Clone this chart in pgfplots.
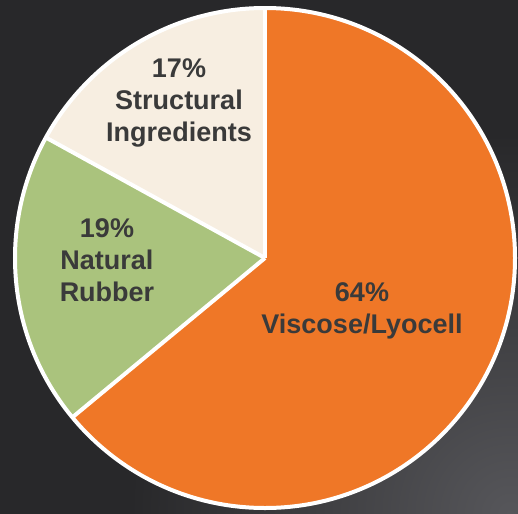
\documentclass[border=0pt]{standalone}
\usepackage{pgfplots}
\pgfplotsset{compat=1.18}
\usepackage{fontspec}
\setmainfont{Liberation Sans}
\definecolor{bgdark}{HTML}{28282A}
\definecolor{bglight}{HTML}{56565A}
\definecolor{cOrange}{HTML}{EF7727}
\definecolor{cGreen}{HTML}{AAC37D}
\definecolor{cBeige}{HTML}{F7EEE1}
\definecolor{txt}{HTML}{3A3A3A}
% shares (percent)
\def\vA{64}% Viscose/Lyocell
\def\vB{19}% Natural Rubber
\def\vC{17}% Structural Ingredients
\begin{document}
\begin{tikzpicture}[x=1bp,y=1bp]
\useasboundingbox (0bp,0bp) rectangle (518bp,-514bp);
\fill[bgdark] (0bp,0bp) rectangle (518bp,-514bp);
\begin{scope}
\clip (0bp,0bp) rectangle (518bp,-514bp);
\shade[inner color=bglight, outer color=bgdark] (510bp,-514bp) circle (380bp);
\end{scope}
\pgfmathsetmacro\aA{90}
\pgfmathsetmacro\aB{\aA-3.6*\vA}
\pgfmathsetmacro\aC{\aB-3.6*\vB}
\pgfmathsetmacro\aD{\aC-3.6*\vC}
\begin{axis}[at={(265bp,-258bp)}, anchor=origin, x=250bp, y=250bp,
  hide axis, xmin=-1, xmax=1, ymin=-1, ymax=1, clip=false]
\fill[cOrange] (axis cs:0,0) -- ++(\aA:250bp) arc[start angle=\aA, end angle=\aB, radius=250bp] -- cycle;
\fill[cGreen] (axis cs:0,0) -- ++(\aB:250bp) arc[start angle=\aB, end angle=\aC, radius=250bp] -- cycle;
\fill[cBeige] (axis cs:0,0) -- ++(\aC:250bp) arc[start angle=\aC, end angle=\aD, radius=250bp] -- cycle;
\draw[white, line width=4bp] (axis cs:0,0) -- ++(\aA:250bp);
\draw[white, line width=4bp] (axis cs:0,0) -- ++(\aB:250bp);
\draw[white, line width=4bp] (axis cs:0,0) -- ++(\aC:250bp);
\draw[white, line width=4bp] (axis cs:0,0) circle[radius=250bp];
\begin{scope}[every node/.style={align=center, text=txt, font=\fontsize{27bp}{32bp}\selectfont\bfseries}]
\node at (axis cs:-0.344,0.62) {\vC\%\\Structural\\Ingredients};
\node at (axis cs:-0.632,-0.008) {\vB\%\\Natural\\Rubber};
\node at (axis cs:0.388,-0.212) {\vA\%\\Viscose/Lyocell};
\end{scope}
\end{axis}
\end{tikzpicture}
\end{document}
